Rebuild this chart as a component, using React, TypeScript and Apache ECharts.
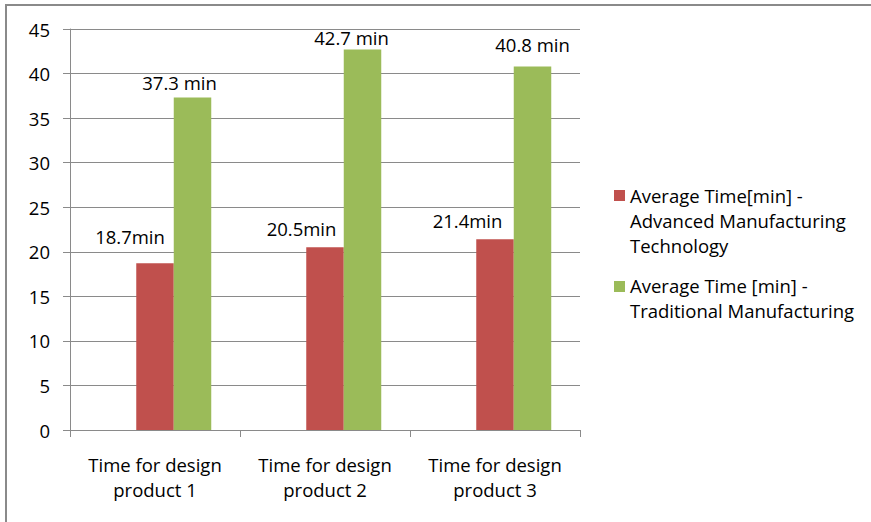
import React, { useEffect, useRef } from "react";
import * as echarts from "echarts";

const categories = ["Time for design\nproduct 1", "Time for design\nproduct 2", "Time for design\nproduct 3"];
const blankSeries: (number | null)[] = [null, null, null];
const advancedTimes = [18.7, 20.5, 21.4];
const traditionalTimes = [37.3, 42.7, 40.8];
const advancedName = "Average Time[min] - Advanced Manufacturing Technology";
const traditionalName = "Average Time [min] - Traditional Manufacturing";
const advancedLegendLines = ["Average Time[min] -", "Advanced Manufacturing", "Technology"];
const traditionalLegendLines = ["Average Time [min] -", "Traditional Manufacturing"];

// label nudges (dx, height above bar top) – styling only
const advancedLabelNudge = [[-25, 27], [-23.5, 19], [-27.5, 19]];
const traditionalLabelNudge = [[-13, 15], [-11, 12], [0, 21.5]];

const FONT = "'Open Sans', 'Noto Sans', sans-serif";
const FS = 18.5;
const RED = "#C0504D";
const GREEN = "#9BBB59";
const GRID = "#8a8a8a";

export default function App() {
  const ref = useRef<HTMLDivElement>(null);
  useEffect(() => {
    if (!ref.current) return;
    const chart = echarts.init(ref.current, undefined, { renderer: "svg" });
    const mkData = (vals: number[], nudges: number[][]) =>
      vals.map((v, i) => ({
        value: v,
        label: { offset: [nudges[i][0], -nudges[i][1]] },
      }));
    const labelBase = {
      show: true,
      position: "top",
      distance: 0,
      verticalAlign: "middle",
      color: "#000",
      fontFamily: FONT,
      fontSize: FS,
    };
    chart.setOption({
      animation: false,
      backgroundColor: "#fff",
      textStyle: { fontFamily: FONT },
      grid: { left: 70, right: 291, top: 29, bottom: 92, containLabel: false },
      xAxis: {
        type: "category",
        data: categories,
        axisLine: { show: true, lineStyle: { color: GRID, width: 1 } },
        axisTick: { show: true, length: 7, lineStyle: { color: GRID } },
        axisLabel: { color: "#000", fontFamily: FONT, fontSize: FS, lineHeight: 25, margin: 22, interval: 0 },
        splitLine: { show: false },
      },
      yAxis: {
        type: "value",
        min: 0,
        max: 45,
        interval: 5,
        axisLine: { show: true, lineStyle: { color: GRID, width: 1 } },
        axisTick: { show: true, length: 7, lineStyle: { color: GRID } },
        axisLabel: { color: "#000", fontFamily: FONT, fontSize: FS, margin: 20 },
        splitLine: { show: true, lineStyle: { color: GRID, width: 1 } },
      },
      series: [
        { type: "bar", name: "", data: blankSeries, barWidth: 37.5, barGap: "0%", silent: true },
        {
          type: "bar",
          name: advancedName,
          data: mkData(advancedTimes, advancedLabelNudge),
          barWidth: 37.5,
          barGap: "0%",
          itemStyle: { color: RED },
          label: { ...labelBase, formatter: "{c}min" },
        },
        {
          type: "bar",
          name: traditionalName,
          data: mkData(traditionalTimes, traditionalLabelNudge),
          barWidth: 37.5,
          barGap: "0%",
          itemStyle: { color: GREEN },
          label: { ...labelBase, formatter: "{c} min" },
        },
      ],
      graphic: [
        {
          type: "rect",
          shape: { x: 6, y: 5, width: 1000, height: 1000 },
          style: { fill: "none", stroke: "#8a8a8a", lineWidth: 2 },
          silent: true,
        },
        {
          type: "rect",
          shape: { x: 614, y: 190, width: 11, height: 11 },
          style: { fill: RED },
        },
        {
          type: "text",
          x: 630,
          y: 182.5,
          style: {
            text: advancedLegendLines.join("\n"),
            fill: "#000",
            font: `${FS}px ${FONT}`,
            lineHeight: 25,
            verticalAlign: "top",
          },
        },
        {
          type: "rect",
          shape: { x: 614, y: 281, width: 11, height: 11 },
          style: { fill: GREEN },
        },
        {
          type: "text",
          x: 630,
          y: 273,
          style: {
            text: traditionalLegendLines.join("\n"),
            fill: "#000",
            font: `${FS}px ${FONT}`,
            lineHeight: 25,
            verticalAlign: "top",
          },
        },
      ],
    });
    return () => chart.dispose();
  }, []);
  return (
    <div
      ref={ref}
      style={{ position: "fixed", left: 0, top: 0, width: 871, height: 522, background: "#fff" }}
    />
  );
}
